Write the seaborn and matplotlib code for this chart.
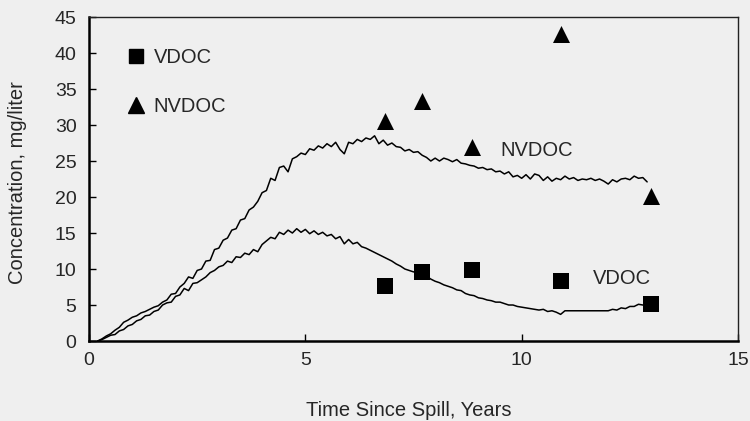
import numpy as np
import pandas as pd
import matplotlib
matplotlib.use("Agg")
import matplotlib.pyplot as plt
import seaborn as sns
from matplotlib.lines import Line2D

# Simulated concentrations, sampled every 0.1 year from 0.2 to 12.9 years
model_years = np.round(np.linspace(0.2, 12.9, 128), 1)
nvdoc_model = [
    0.0, 0.3, 0.7, 1.0, 1.5, 1.9, 2.6, 2.9, 3.3, 3.5,
    3.9, 4.1, 4.4, 4.7, 4.9, 5.4, 5.7, 6.5, 6.6, 7.5,
    8.0, 8.9, 8.7, 9.8, 10.0, 11.1, 11.2, 12.7, 12.9, 14.0,
    14.3, 15.4, 15.6, 16.8, 17.0, 18.2, 18.6, 19.4, 20.6, 20.9,
    22.6, 22.3, 24.1, 24.3, 23.5, 25.3, 25.6, 26.1, 25.9, 26.7,
    26.5, 27.1, 26.8, 27.4, 27.0, 27.6, 26.6, 26.0, 27.6, 27.4,
    28.0, 27.7, 28.2, 28.0, 28.5, 27.4, 27.9, 27.2, 27.5, 27.0,
    26.9, 26.4, 26.6, 26.2, 26.3, 25.8, 25.5, 25.0, 25.4, 25.0,
    25.4, 25.2, 24.9, 25.2, 24.7, 24.6, 24.4, 24.3, 24.0, 24.1,
    23.8, 23.9, 23.5, 23.6, 23.2, 23.5, 22.8, 23.0, 22.6, 23.1,
    22.5, 23.2, 23.0, 22.3, 22.8, 22.2, 22.6, 22.4, 22.9, 22.5,
    22.7, 22.3, 22.5, 22.4, 22.6, 22.3, 22.5, 22.2, 21.8, 22.4,
    22.1, 22.5, 22.6, 22.4, 22.9, 22.6, 22.7, 22.1,
]
vdoc_model = [
    0.0, 0.2, 0.5, 0.8, 0.9, 1.4, 1.6, 2.1, 2.3, 2.8,
    3.0, 3.5, 3.6, 4.1, 4.3, 5.0, 5.3, 5.4, 6.2, 6.4,
    7.3, 7.0, 8.0, 8.1, 8.5, 8.9, 9.5, 9.8, 10.3, 10.5,
    11.1, 10.9, 11.7, 11.6, 12.2, 12.0, 12.7, 12.4, 13.4, 13.9,
    14.4, 14.2, 15.1, 14.8, 15.4, 15.0, 15.6, 15.1, 15.5, 14.9,
    15.3, 14.8, 15.1, 14.6, 14.8, 14.2, 14.5, 13.5, 14.1, 13.5,
    13.7, 13.1, 12.9, 12.6, 12.3, 12.0, 11.7, 11.4, 11.1, 10.7,
    10.4, 10.0, 9.8, 9.6, 9.6, 9.4, 9.0, 8.6, 8.3, 8.1,
    7.8, 7.6, 7.4, 7.1, 7.0, 6.6, 6.4, 6.3, 6.0, 5.9,
    5.7, 5.6, 5.4, 5.4, 5.2, 5.0, 5.0, 4.8, 4.7, 4.6,
    4.5, 4.4, 4.3, 4.4, 4.1, 4.2, 4.0, 3.7, 4.2, 4.2,
    4.2, 4.2, 4.2, 4.2, 4.2, 4.2, 4.2, 4.2, 4.2, 4.4,
    4.3, 4.6, 4.5, 4.8, 4.8, 5.1, 5.0, 5.0,
]

# Measured concentrations
sample_years = [6.85, 7.7, 8.85, 10.9, 13.0]
vdoc_measured = [7.6, 9.6, 9.9, 8.3, 5.1]
nvdoc_measured = [30.5, 33.4, 26.9, 42.7, 20.2]

x_ticks = [0, 5, 10, 15]
y_ticks = [0, 5, 10, 15, 20, 25, 30, 35, 40, 45]

bg = "#efefef"
sns.set_theme(style="ticks")
plt.rcParams["font.family"] = ["Liberation Sans", "DejaVu Sans"]

fig = plt.figure(figsize=(7.5, 4.21), dpi=100, facecolor=bg)
ax = fig.add_axes([0.1187, 0.19, 0.8653, 0.7696])
ax.set_facecolor(bg)

model = pd.DataFrame({"years": model_years, "NVDOC": nvdoc_model, "VDOC": vdoc_model})
for col in ["NVDOC", "VDOC"]:
    sns.lineplot(data=model, x="years", y=col, ax=ax, color="black", lw=1.1,
                 estimator=None, sort=False)

sns.scatterplot(x=sample_years, y=vdoc_measured, ax=ax, marker="s", s=120,
                color="black", edgecolor="black", linewidth=0)
sns.scatterplot(x=sample_years, y=nvdoc_measured, ax=ax, marker="^", s=150,
                color="black", edgecolor="black", linewidth=0)

label_size = 14.5
ax.text(9.5, 26.5, "NVDOC", fontsize=label_size, va="center", ha="left")
ax.text(11.65, 8.7, "VDOC", fontsize=label_size, va="center", ha="left")

handles = [
    Line2D([], [], marker="s", ls="none", color="black", markersize=10.5),
    Line2D([], [], marker="^", ls="none", color="black", markersize=11),
]
ax.legend(handles, ["VDOC", "NVDOC"], loc="upper left", bbox_to_anchor=(0.045, 0.93),
          frameon=False, fontsize=label_size, handletextpad=0.35, labelspacing=1.5,
          handlelength=1.0, borderaxespad=0)

ax.set_xlim(0, 15)
ax.set_ylim(0, 45)
ax.set_xticks(x_ticks)
ax.set_yticks(y_ticks)
ax.tick_params(axis="x", direction="in", length=5, width=1, labelsize=14, pad=8, color="black")
ax.tick_params(axis="y", direction="in", length=5, width=1, labelsize=14, pad=9, color="black")

for side in ["left", "bottom"]:
    ax.spines[side].set_linewidth(1.8)
    ax.spines[side].set_color("black")
for side in ["top", "right"]:
    ax.spines[side].set_visible(True)
    ax.spines[side].set_linewidth(1.0)
    ax.spines[side].set_color("#222222")

ax.set_xlabel("Time Since Spill, Years", fontsize=label_size)
ax.set_ylabel("Concentration, mg/liter", fontsize=label_size)
ax.xaxis.set_label_coords(0.493, -0.215)
ax.xaxis.label.set_va("center")
ax.yaxis.set_label_coords(-0.11, 0.49)
ax.yaxis.label.set_va("center")

fig.savefig("out.png", dpi=100, facecolor=bg)
